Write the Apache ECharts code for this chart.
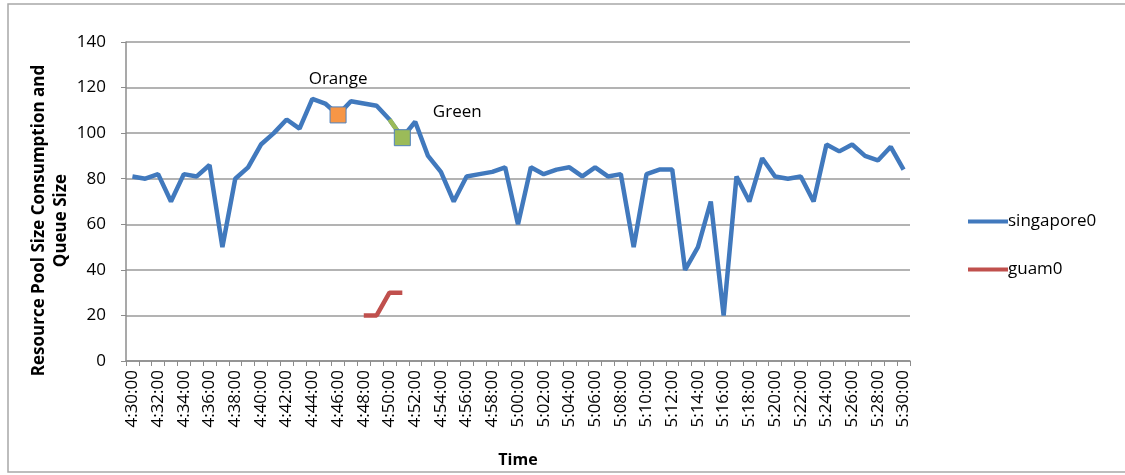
<!DOCTYPE html>
<html>
<head>
<meta charset="utf-8">
<script src="https://cdn.jsdelivr.net/npm/echarts@6/dist/echarts.min.js"></script>
<style>
  html, body { margin: 0; padding: 0; background: #ffffff; }
  #chart { width: 1125px; height: 475px; }
</style>
</head>
<body>
<div id="chart"></div>
<script>
// One sample per minute, 4:30 to 5:30
const times = [
  '4:30:00','4:31:00','4:32:00','4:33:00','4:34:00','4:35:00','4:36:00','4:37:00','4:38:00','4:39:00',
  '4:40:00','4:41:00','4:42:00','4:43:00','4:44:00','4:45:00','4:46:00','4:47:00','4:48:00','4:49:00',
  '4:50:00','4:51:00','4:52:00','4:53:00','4:54:00','4:55:00','4:56:00','4:57:00','4:58:00','4:59:00',
  '5:00:00','5:01:00','5:02:00','5:03:00','5:04:00','5:05:00','5:06:00','5:07:00','5:08:00','5:09:00',
  '5:10:00','5:11:00','5:12:00','5:13:00','5:14:00','5:15:00','5:16:00','5:17:00','5:18:00','5:19:00',
  '5:20:00','5:21:00','5:22:00','5:23:00','5:24:00','5:25:00','5:26:00','5:27:00','5:28:00','5:29:00',
  '5:30:00'
];

const singapore0 = [
  81, 80, 82, 70, 82, 81, 86, 50, 80, 85,
  95, 100, 106, 102, 115, 113, 108, 114, 113, 112,
  106, 98, 105, 90, 83, 70, 81, 82, 83, 85,
  60, 85, 82, 84, 85, 81, 85, 81, 82, 50,
  82, 84, 84, 40, 50, 70, 20, 81, 70, 89,
  81, 80, 81, 70, 95, 92, 95, 90, 88, 94,
  84
];

// guam0 only reports between 4:48 and 4:51
const guam0 = [
  null, null, null, null, null, null, null, null, null, null,
  null, null, null, null, null, null, null, null, 20, 20,
  30, 30, null, null, null, null, null, null, null, null,
  null, null, null, null, null, null, null, null, null, null,
  null, null, null, null, null, null, null, null, null, null,
  null, null, null, null, null, null, null, null, null, null,
  null
];

const yTicks = { min: 0, max: 140, interval: 20 };

// Highlighted readings on singapore0
const highlights = [
  { index: 16, name: 'Orange', color: '#F79646' },
  { index: 21, name: 'Green',  color: '#9BBB59' }
];

const BLUE = '#4179BD';
const RED = '#C0504D';
const FONT = '"Open Sans", "DejaVu Sans", sans-serif';

const markerData = singapore0.map(() => null);
highlights.forEach(h => {
  const isOrange = h.name === 'Orange';
  markerData[h.index] = {
    value: singapore0[h.index],
    itemStyle: { color: h.color, borderColor: '#4F81BD', borderWidth: 1 },
    label: isOrange
      ? { show: true, formatter: h.name, position: 'top', distance: 19 }
      : { show: true, formatter: h.name, position: 'right', distance: 5, offset: [17, -26] }
  };
});

// Segment leading into the green reading
const greenIdx = highlights[1].index;
const greenSegment = singapore0.map((v, i) => (i === greenIdx - 1 || i === greenIdx) ? v : null);

const chart = echarts.init(document.getElementById('chart'));
chart.setOption({
  animation: false,
  backgroundColor: '#ffffff',
  textStyle: { fontFamily: FONT },
  graphic: [{
    type: 'rect',
    shape: { x: 8, y: 4, width: 1140, height: 468 },
    style: { fill: 'none', stroke: '#a8a8a8', lineWidth: 1.5 },
    silent: true
  }],
  grid: { left: 126, right: 215, top: 42, bottom: 114 },
  legend: {
    orient: 'vertical',
    left: 963,
    top: 208,
    icon: 'rect',
    itemWidth: 40,
    itemHeight: 4,
    itemGap: 31,
    data: ['singapore0', 'guam0'],
    textStyle: { fontFamily: FONT, fontSize: 17, color: '#000', padding: [0, 0, 0, -5] }
  },
  xAxis: {
    type: 'category',
    data: times,
    boundaryGap: true,
    name: 'Time',
    nameLocation: 'middle',
    nameGap: 91,
    nameMoveOverlap: false,
    nameTextStyle: { fontFamily: FONT, fontSize: 16, fontWeight: 'bold', color: '#000' },
    axisLine: { show: true, lineStyle: { color: '#8c8c8c', width: 1.5 } },
    axisTick: { show: true, interval: 0, length: 5, lineStyle: { color: '#8c8c8c' } },
    axisLabel: {
      interval: 1,
      rotate: 90,
      margin: 9,
      fontFamily: FONT,
      fontSize: 17,
      color: '#000'
    },
    splitLine: { show: false }
  },
  yAxis: {
    type: 'value',
    min: yTicks.min,
    max: yTicks.max,
    interval: yTicks.interval,
    name: 'Resource Pool Size Consumption and\nQueue Size',
    nameLocation: 'middle',
    nameGap: 54,
    nameMoveOverlap: false,
    nameTextStyle: {
      fontFamily: FONT, fontSize: 17, fontWeight: 'bold', color: '#000',
      lineHeight: 22, padding: [0, 38, 0, 0]
    },
    axisLine: { show: true, lineStyle: { color: '#8c8c8c', width: 1.5 } },
    axisTick: { show: true, length: 5, lineStyle: { color: '#8c8c8c' } },
    axisLabel: { margin: 20, fontFamily: FONT, fontSize: 17, color: '#000' },
    splitLine: { show: true, lineStyle: { color: '#9a9a9a', width: 1.5 } }
  },
  series: [
    {
      name: 'singapore0',
      type: 'line',
      data: singapore0,
      symbol: 'none',
      lineStyle: { color: BLUE, width: 4.5 },
      itemStyle: { color: BLUE },
      z: 3
    },
    {
      name: 'guam0',
      type: 'line',
      data: guam0,
      symbol: 'none',
      lineStyle: { color: RED, width: 4.5 },
      itemStyle: { color: RED },
      z: 3
    },
    {
      name: 'greenSegment',
      type: 'line',
      data: greenSegment,
      symbol: 'none',
      lineStyle: { color: '#9BBB59', width: 4.5 },
      z: 4
    },
    {
      name: 'highlights',
      type: 'line',
      data: markerData,
      symbol: 'rect',
      symbolSize: 16,
      showSymbol: true,
      showAllSymbol: true,
      lineStyle: { width: 0, opacity: 0 },
      label: { fontFamily: FONT, fontSize: 17, color: '#000' },
      z: 5
    }
  ]
});
</script>
</body>
</html>
